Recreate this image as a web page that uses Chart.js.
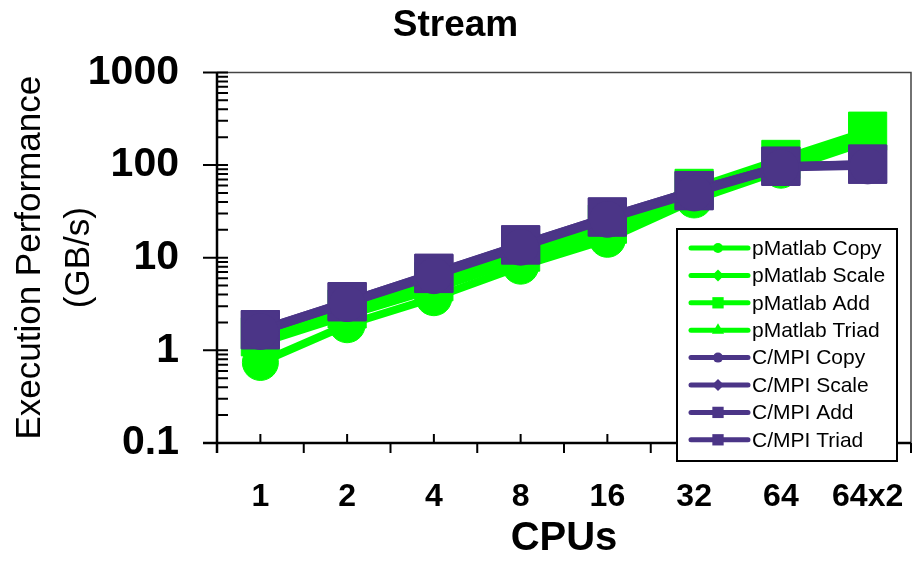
<!DOCTYPE html>
<html lang="en">
<head>
<meta charset="UTF-8">
<title>Stream</title>
<script src="https://cdn.jsdelivr.net/npm/chart.js"></script>
<style>
  body { margin: 0; background: #fff; }
  canvas { display: block; }
</style>
</head>
<body>
<canvas id="streamChart" width="916" height="561"></canvas>
<script>
// CPU counts along the bottom
const cpus = ["1", "2", "4", "8", "16", "32", "64", "64x2"];
// decade labels of the log axis
const yTicks = [0.1, 1, 10, 100, 1000];

// GB/s per run
const pmatlabCopy  = [0.74, 1.89, 3.7, 8.1, 15.8, 42, 88, 181];
const pmatlabScale = [1.2, 2.4, 4.6, 9.6, 19, 47, 100, 200];
const pmatlabAdd   = [1.4, 2.8, 5.5, 11.5, 23, 56, 115, 232];
const pmatlabTriad = [1.35, 2.7, 5.3, 11, 22, 54, 110, 222];
const mpiCopy  = [1.6, 3.2, 6.4, 13, 26, 50, 94, 98];
const mpiScale = [1.6, 3.25, 6.5, 13.2, 26.5, 51, 95, 100];
const mpiAdd   = [1.67, 3.35, 6.8, 13.8, 27.5, 53, 97, 102];
const mpiTriad = [1.67, 3.35, 6.75, 13.7, 27.5, 53, 97, 102.5];

const GREEN = "#00ff00";
const PURPLE = "#4b3587";
const FONT = "'Liberation Sans', Arial, sans-serif";

const series = [
  { label: "pMatlab Copy",  data: pmatlabCopy,  color: GREEN,  style: "circle",   r: 18, lr: 5 },
  { label: "pMatlab Scale", data: pmatlabScale, color: GREEN,  style: "rectRot",  r: 18, lr: 6 },
  { label: "pMatlab Add",   data: pmatlabAdd,   color: GREEN,  style: "rect",     r: 27, lr: 8 },
  { label: "pMatlab Triad", data: pmatlabTriad, color: GREEN,  style: "triangle", r: 16, lr: 7 },
  { label: "C/MPI Copy",    data: mpiCopy,      color: PURPLE, style: "circle",   r: 18, lr: 5 },
  { label: "C/MPI Scale",   data: mpiScale,     color: PURPLE, style: "rectRot",  r: 18, lr: 6 },
  { label: "C/MPI Add",     data: mpiAdd,       color: PURPLE, style: "rect",     r: 27, lr: 8 },
  { label: "C/MPI Triad",   data: mpiTriad,     color: PURPLE, style: "rect",     r: 27, lr: 8 }
];

const datasets = series.map(s => ({
  label: s.label,
  data: s.data,
  borderColor: s.color,
  backgroundColor: s.color,
  borderWidth: 8,
  pointStyle: s.style,
  pointRadius: s.r,
  pointBorderWidth: 1,
  pointBackgroundColor: s.color,
  pointBorderColor: s.color,
  order: s.color === PURPLE ? 0 : 1
}));

// small marker for the legend rows
function legendMarker(ctx, style, x, y, r) {
  ctx.beginPath();
  if (style === "circle") {
    ctx.arc(x, y, r, 0, Math.PI * 2);
  } else if (style === "rectRot") {
    ctx.moveTo(x, y - r); ctx.lineTo(x + r, y); ctx.lineTo(x, y + r); ctx.lineTo(x - r, y);
    ctx.closePath();
  } else if (style === "rect") {
    const h = r * Math.SQRT1_2;
    ctx.rect(x - h, y - h, 2 * h, 2 * h);
  } else if (style === "triangle") {
    ctx.moveTo(x, y - r); ctx.lineTo(x + r * 0.87, y + r * 0.5); ctx.lineTo(x - r * 0.87, y + r * 0.5);
    ctx.closePath();
  }
  ctx.fill();
}

// axis lines, decade/minor ticks and the frame
const axesPlugin = {
  id: "axesDraw",
  beforeDatasetsDraw(chart) {
    const { ctx, chartArea: a, scales: { x, y } } = chart;
    ctx.save();
    ctx.strokeStyle = "#444";
    ctx.lineWidth = 1.5;
    ctx.beginPath();
    ctx.moveTo(a.left, a.top); ctx.lineTo(a.right, a.top); ctx.lineTo(a.right, a.bottom + 10);
    ctx.stroke();

    ctx.strokeStyle = "#000";
    ctx.lineWidth = 2.5;
    ctx.beginPath();
    ctx.moveTo(a.left, a.top); ctx.lineTo(a.left, a.bottom + 10);
    ctx.moveTo(a.left - 14, a.bottom); ctx.lineTo(a.right, a.bottom);
    ctx.stroke();

    ctx.lineWidth = 2;
    ctx.beginPath();
    yTicks.forEach((v, i) => {
      const py = y.getPixelForValue(v);
      ctx.moveTo(a.left - 14, py); ctx.lineTo(a.left + 11, py);
      if (i < yTicks.length - 1) {
        for (let m = 2; m <= 9; m++) {
          const pm = y.getPixelForValue(v * m);
          ctx.moveTo(a.left, pm); ctx.lineTo(a.left + 11, pm);
        }
      }
    });
    const step = x.getPixelForValue(1) - x.getPixelForValue(0);
    cpus.forEach((c, i) => {
      const px = x.getPixelForValue(i);
      ctx.moveTo(px, a.bottom); ctx.lineTo(px, a.bottom - 9);
      const edge = px + step / 2;
      ctx.moveTo(edge, a.bottom); ctx.lineTo(edge, a.bottom + 10);
    });
    ctx.stroke();
    ctx.restore();
  },
  afterDraw(chart) {
    // boxed legend sitting over the lower right of the plot
    const ctx = chart.ctx;
    const bx = 677, by = 229, bw = 220, bh = 232;
    ctx.save();
    ctx.fillStyle = "#fff";
    ctx.fillRect(bx, by, bw, bh);
    ctx.strokeStyle = "#000";
    ctx.lineWidth = 2;
    ctx.strokeRect(bx, by, bw, bh);
    ctx.font = "21px " + FONT;
    ctx.textBaseline = "middle";
    ctx.textAlign = "left";
    series.forEach((s, i) => {
      const ly = 248 + i * 27.4;
      ctx.strokeStyle = s.color;
      ctx.fillStyle = s.color;
      ctx.lineWidth = 5;
      ctx.lineCap = "round";
      ctx.beginPath();
      ctx.moveTo(691, ly); ctx.lineTo(748, ly);
      ctx.stroke();
      legendMarker(ctx, s.style, 718, ly, s.lr);
      ctx.fillStyle = "#000";
      ctx.fillText(s.label, 752, ly + 1);
    });
    ctx.restore();
  }
};

// fixed axis sizes, no extra room for overhanging labels
function fixX(s) { s.height = 118; s.paddingLeft = 0; s.paddingRight = 0; }
function fixY(s) { s.width = 217; s.paddingTop = 0; s.paddingBottom = 0; }

new Chart(document.getElementById("streamChart"), {
  type: "line",
  data: { labels: cpus, datasets: datasets },
  options: {
    responsive: false,
    animation: false,
    layout: { autoPadding: false, padding: { left: 0, right: 5, top: 0, bottom: 0 } },
    plugins: {
      legend: { display: false },
      tooltip: { enabled: false },
      title: {
        display: true,
        text: "Stream",
        color: "#000",
        font: { family: FONT, size: 37, weight: "bold", lineHeight: 1.2 },
        padding: { top: 4, bottom: 24 }
      }
    },
    scales: {
      x: {
        type: "category",
        offset: true,
        grid: { display: false, drawTicks: false },
        border: { display: false },
        ticks: {
          color: "#000",
          padding: 35,
          font: { family: FONT, size: 32, weight: "bold", lineHeight: 1.2 }
        },
        title: {
          display: true,
          text: "CPUs",
          color: "#000",
          padding: { top: 0, bottom: 0 },
          font: { family: FONT, size: 40, weight: "bold", lineHeight: 1.1 }
        },
        afterFit: fixX
      },
      y: {
        type: "logarithmic",
        min: 0.1,
        max: 1000,
        grid: { display: false, drawTicks: false },
        border: { display: false },
        afterBuildTicks: s => { s.ticks = yTicks.map(v => ({ value: v, major: true })); },
        ticks: {
          color: "#000",
          padding: 38,
          autoSkip: false,
          font: { family: FONT, size: 41, weight: "bold" },
          callback: v => String(v)
        },
        title: {
          display: true,
          text: ["Execution Performance", "(GB/s)"],
          color: "#000",
          padding: { top: 6, bottom: 0 },
          font: { family: FONT, size: 35, lineHeight: 1.4 }
        },
        afterFit: fixY
      }
    }
  },
  plugins: [axesPlugin]
});
</script>
</body>
</html>
